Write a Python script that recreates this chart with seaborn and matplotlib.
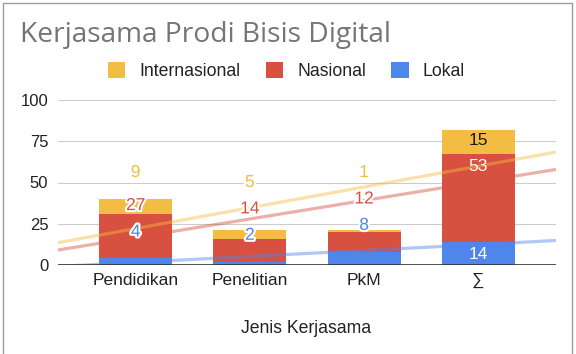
import numpy as np
import pandas as pd
import matplotlib
matplotlib.use("Agg")
import matplotlib.pyplot as plt
import matplotlib.patheffects as pe
from matplotlib.patches import Patch
from matplotlib.lines import Line2D
import seaborn as sns

# ---- data ----
categories = ["Pendidikan", "Penelitian", "PkM", "∑"]
lokal = [4, 2, 8, 14]
nasional = [27, 14, 12, 53]
internasional = [9, 5, 1, 15]
series_names = ["Lokal", "Nasional", "Internasional"]
y_ticks = [0, 25, 50, 75, 100]
chart_title = "Kerjasama Prodi Bisis Digital"
x_title = "Jenis Kerjasama"

colors = {"Lokal": "#4F86EC", "Nasional": "#D85040", "Internasional": "#F2BD42"}
inside_text = {"Lokal": "white", "Nasional": "white", "Internasional": "#1a1a1a"}

sns.set_theme(style="white")
plt.rcParams['font.family'] = ['Liberation Sans', 'DejaVu Sans']

W, H = 576, 354
fig = plt.figure(figsize=(W / 100, H / 100), dpi=100)
ax = fig.add_axes([58 / W, 1 - 265 / H, (556 - 58) / W, (265 - 100) / H])

values = {"Lokal": lokal, "Nasional": nasional, "Internasional": internasional}
cum = np.zeros(len(categories))
tops, bottoms = {}, {}
for s in series_names:
    bottoms[s] = cum.copy()
    cum = cum + np.array(values[s], dtype=float)
    tops[s] = cum.copy()

# stacked bars (draw cumulative from tallest to shortest)
for s in reversed(series_names):
    df = pd.DataFrame({"Jenis": categories, "Nilai": tops[s]})
    sns.barplot(data=df, x="Jenis", y="Nilai", order=categories, color=colors[s],
                saturation=1, width=0.64, errorbar=None, ax=ax, zorder=2,
                linewidth=0, edgecolor='none')

xlim = (-0.68, len(categories) - 1 + 0.68)
ax.set_xlim(*xlim)
ax.set_ylim(0, 100)

# trendlines on the stacked values
xs = np.array(xlim)
pos = np.arange(len(categories))
for s in reversed(series_names):
    coef = np.polyfit(pos, tops[s], 1)
    ax.plot(xs, np.polyval(coef, xs), color=colors[s], alpha=0.45, lw=2.3,
            zorder=3, solid_capstyle='butt')

# data labels
fit_min, inside_off, outside_off, min_gap = 13, 7.5, 16, 16
for i in range(len(categories)):
    prev = -1e9
    for s in series_names:
        v = values[s][i]
        b, t = bottoms[s][i], tops[s][i]
        cand = t - inside_off if v >= fit_min else t + outside_off
        y = max(cand, prev + min_gap)
        prev = y
        inside = (b <= y - 5) and (y + 5 <= t)
        if inside:
            ax.text(i, y, str(v), ha='center', va='center', fontsize=12.5,
                    color=inside_text[s], zorder=5)
        else:
            ax.text(i, y, str(v), ha='center', va='center', fontsize=12.5,
                    color=colors[s], zorder=5,
                    path_effects=[pe.withStroke(linewidth=3, foreground='white')])

# axes styling
for sp in ax.spines.values():
    sp.set_visible(False)
ax.set_yticks(y_ticks)
ax.set_yticklabels([str(v) for v in y_ticks])
ax.set_xticks(pos)
ax.set_xticklabels(categories)
ax.yaxis.grid(True, color='#cccccc', lw=0.8)
ax.xaxis.grid(False)
ax.set_axisbelow(True)
ax.tick_params(axis='y', length=0, pad=7, labelsize=12, labelcolor='#222222')
ax.tick_params(axis='x', length=0, pad=6, labelsize=12.5, labelcolor='#222222')
ax.set_xlabel("")
ax.set_ylabel("")
ax.axhline(0, color='#333333', lw=1.2, zorder=4)

# x title
fig.text(306 / W, 1 - 333 / H, x_title, ha='center', va='baseline', fontsize=12.7,
         color='#222222')

# legend
handles = [Patch(facecolor=colors[s], edgecolor='none', label=s) for s in reversed(series_names)]
fig.legend(handles=handles, loc='center', bbox_to_anchor=(286.5 / W, 1 - 71 / H), ncol=3,
           frameon=False, fontsize=12.7, handlelength=0.97, handleheight=0.97,
           handletextpad=0.8, columnspacing=1.45, labelcolor='#222222')

# title (fit width to reference)
t = fig.text(20 / W, 1 - 42 / H, chart_title, ha='left', va='baseline', fontsize=19,
             color='#757575', family=['Open Sans', 'DejaVu Sans'])
fig.canvas.draw()
w = t.get_window_extent().width
t.set_fontsize(19 * 372 / w)

# outer frame
frame = dict(color='#9e9e9e', lw=1.0, transform=fig.transFigure)
fig.add_artist(Line2D([2.5 / W, 2.5 / W], [0, 1 - 2.5 / H], **frame))
fig.add_artist(Line2D([2.5 / W, 571.5 / W], [1 - 2.5 / H, 1 - 2.5 / H], **frame))
fig.add_artist(Line2D([571.5 / W, 571.5 / W], [0, 1 - 2.5 / H], **frame))

fig.savefig("out.png", dpi=100)
